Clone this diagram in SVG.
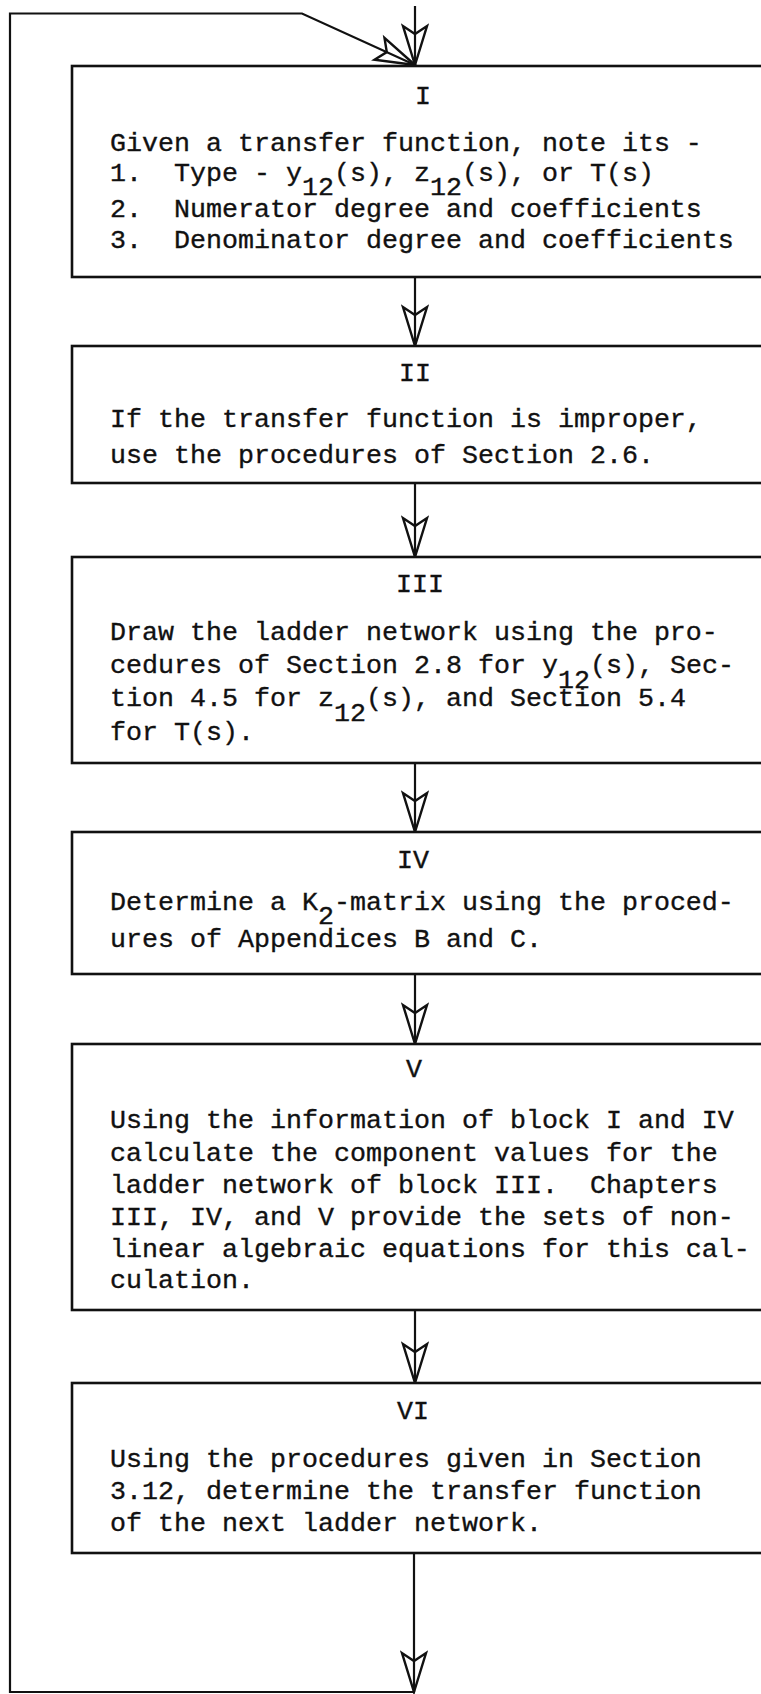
<svg xmlns="http://www.w3.org/2000/svg" width="761" height="1694" viewBox="0 0 761 1694">
<style>
.bx{fill:#fff;stroke:#111;stroke-width:2.6}
.t{font-family:"Liberation Mono",monospace;font-size:26.67px;fill:#111;stroke:#111;stroke-width:0.35;white-space:pre}
.h{font-family:"Liberation Mono",monospace;font-size:26.67px;fill:#111;stroke:#111;stroke-width:0.35;text-anchor:middle}
.c{fill:none;stroke:#111;stroke-width:2.2}
</style>
<defs>
<marker id="ah" markerUnits="userSpaceOnUse" markerWidth="60" markerHeight="40" viewBox="-50 -20 60 40" refX="0" refY="0" orient="auto">
<path d="M0,0 L-39,-12 L-31,0 L-39,12 Z" fill="none" stroke="#111" stroke-width="2.4" stroke-linejoin="miter"/>
</marker>
</defs>
<g id="connectors">
<path class="c" d="M415,6 L415,65" marker-end="url(#ah)"/>
<path class="c" d="M415,277 L415,346" marker-end="url(#ah)"/>
<path class="c" d="M415,483 L415,557" marker-end="url(#ah)"/>
<path class="c" d="M415,763 L415,832" marker-end="url(#ah)"/>
<path class="c" d="M415,974 L415,1044" marker-end="url(#ah)"/>
<path class="c" d="M415,1310 L415,1383" marker-end="url(#ah)"/>
<path class="c" d="M414,1553 L414,1692" marker-end="url(#ah)"/>
<path class="c" d="M414,1692 L10,1692 L10,13.5 L302,13.5 L415,65" marker-end="url(#ah)"/>
</g>
<g id="block1">
<rect class="bx" x="72" y="66" width="700" height="211"/>
<text class="h" x="423" y="104">I</text>
<text class="t" x="110" y="151" xml:space="preserve">Given a transfer function, note its -</text>
<text class="t" x="110" y="181" xml:space="preserve">1.  Type - y<tspan dy="14">12</tspan><tspan dy="-14">(s), z</tspan><tspan dy="14">12</tspan><tspan dy="-14">(s), or T(s)</tspan></text>
<text class="t" x="110" y="217" xml:space="preserve">2.  Numerator degree and coefficients</text>
<text class="t" x="110" y="248" xml:space="preserve">3.  Denominator degree and coefficients</text>
</g>
<g id="block2">
<rect class="bx" x="72" y="346" width="700" height="137"/>
<text class="h" x="415" y="381">II</text>
<text class="t" x="110" y="427" xml:space="preserve">If the transfer function is improper,</text>
<text class="t" x="110" y="463" xml:space="preserve">use the procedures of Section 2.6.</text>
</g>
<g id="block3">
<rect class="bx" x="72" y="557" width="700" height="206"/>
<text class="h" x="420" y="592">III</text>
<text class="t" x="110" y="640" xml:space="preserve">Draw the ladder network using the pro-</text>
<text class="t" x="110" y="673" xml:space="preserve">cedures of Section 2.8 for y<tspan dy="15">12</tspan><tspan dy="-15">(s), Sec-</tspan></text>
<text class="t" x="110" y="706" xml:space="preserve">tion 4.5 for z<tspan dy="15">12</tspan><tspan dy="-15">(s), and Section 5.4</tspan></text>
<text class="t" x="110" y="740" xml:space="preserve">for T(s).</text>
</g>
<g id="block4">
<rect class="bx" x="72" y="832" width="700" height="142"/>
<text class="h" x="413" y="868">IV</text>
<text class="t" x="110" y="910" xml:space="preserve">Determine a K<tspan dy="14">2</tspan><tspan dy="-14">-matrix using the proced-</tspan></text>
<text class="t" x="110" y="947" xml:space="preserve">ures of Appendices B and C.</text>
</g>
<g id="block5">
<rect class="bx" x="72" y="1044" width="700" height="266"/>
<text class="h" x="414" y="1077">V</text>
<text class="t" x="110" y="1128" xml:space="preserve">Using the information of block I and IV</text>
<text class="t" x="110" y="1161" xml:space="preserve">calculate the component values for the</text>
<text class="t" x="110" y="1193" xml:space="preserve">ladder network of block III.  Chapters</text>
<text class="t" x="110" y="1225" xml:space="preserve">III, IV, and V provide the sets of non-</text>
<text class="t" x="110" y="1257" xml:space="preserve">linear algebraic equations for this cal-</text>
<text class="t" x="110" y="1288" xml:space="preserve">culation.</text>
</g>
<g id="block6">
<rect class="bx" x="72" y="1383" width="700" height="170"/>
<text class="h" x="413" y="1419">VI</text>
<text class="t" x="110" y="1467" xml:space="preserve">Using the procedures given in Section</text>
<text class="t" x="110" y="1499" xml:space="preserve">3.12, determine the transfer function</text>
<text class="t" x="110" y="1531" xml:space="preserve">of the next ladder network.</text>
</g>
</svg>
